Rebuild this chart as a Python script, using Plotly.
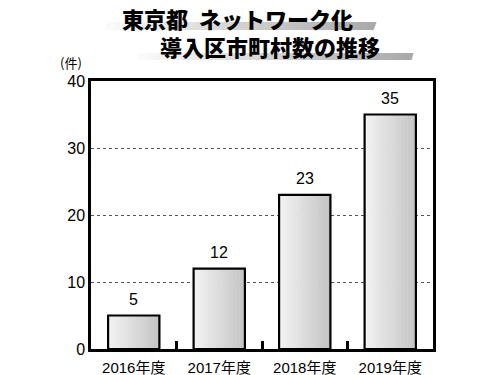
import plotly.graph_objects as go

categories = ["2016年度", "2017年度", "2018年度", "2019年度"]
values = [5, 12, 23, 35]
y_ticks = [0, 10, 20, 30, 40]
title_line1 = "東京都 ネットワーク化"
title_line2 = "導入区市町村数の推移"
unit_label = "(件)"

FONT = "Liberation Sans, Noto Sans CJK JP"
TFONT = "Noto Sans CJK JP"
W, H = 500, 375
OFF = 8  # page body margin in the browser
L, R, T, B = 91 - OFF, 67 + OFF, 81 - OFF, 26 + OFF
PW, PH = W - L - R, H - T - B

def px_to_paper(x, y):
    # x, y are screenshot pixel coordinates
    return (x - OFF - L) / PW, (H - B - (y - OFF)) / PH

def lerp_color(c0, c1, f):
    return "rgb(%d,%d,%d)" % tuple(round(a + (b - a) * f) for a, b in zip(c0, c1))

fig = go.Figure()

# gradient bars built from thin strips
N = 18
bar_w = 0.6
step = bar_w / N
c_left, c_right = (242, 242, 242), (196, 196, 196)
for k in range(N):
    fig.add_trace(go.Bar(
        x=categories, y=values,
        width=step * 1.15, offset=-bar_w / 2 + k * step,
        marker=dict(color=lerp_color(c_left, c_right, k / (N - 1)), line=dict(width=0)),
        hoverinfo="skip", showlegend=False,
    ))
# outline
fig.add_trace(go.Bar(
    x=categories, y=values, width=bar_w,
    marker=dict(color="rgba(0,0,0,0)", line=dict(color="black", width=2.2)),
    showlegend=False,
))

# value labels
for c, v in zip(categories, values):
    fig.add_annotation(x=c, y=v, text=str(v), showarrow=False, yanchor="bottom",
                       yshift=6, font=dict(family=FONT, size=16, color="black"))

# title decoration strips (gradient parallelograms)
shapes = []
def strip(x0, x1, yt, yb, slant, n=30):
    w = (x1 - x0) / n
    for k in range(n):
        a = x0 + k * w
        b = a + w + 0.6
        p1 = px_to_paper(a, yb); p2 = px_to_paper(b, yb)
        p3 = px_to_paper(b + slant, yt); p4 = px_to_paper(a + slant, yt)
        path = "M%.5f,%.5fL%.5f,%.5fL%.5f,%.5fL%.5f,%.5fZ" % (p1 + p2 + p3 + p4)
        shapes.append(dict(type="path", xref="paper", yref="paper", path=path,
                           fillcolor=lerp_color((250, 250, 250), (170, 170, 170), k / (n - 1)),
                           line=dict(width=0), layer="above"))
strip(104, 373, 22, 30, 3)
strip(137, 411, 53, 60, 2)

fig.add_annotation(xref="paper", yref="paper", x=px_to_paper(237, 0)[0], y=px_to_paper(0, 18)[1],
                   text=title_line1.replace(" ", "\u2002"), showarrow=False, xanchor="center", yanchor="middle",
                   font=dict(family=TFONT, size=22, color="black", weight=900))
fig.add_annotation(xref="paper", yref="paper", x=px_to_paper(270, 0)[0], y=px_to_paper(0, 46)[1],
                   text=title_line2, showarrow=False, xanchor="center", yanchor="middle",
                   font=dict(family=TFONT, size=22, color="black", weight=900))
fig.add_annotation(xref="paper", yref="paper", x=px_to_paper(71, 0)[0], y=px_to_paper(0, 62)[1],
                   text=unit_label, showarrow=False, xanchor="center", yanchor="middle",
                   font=dict(family=TFONT, size=13, color="black"))

fig.update_layout(
    width=W, height=H, margin=dict(l=L, r=R, t=T, b=B, autoexpand=False),
    paper_bgcolor="white", plot_bgcolor="white",
    barmode="overlay", bargap=0.4, shapes=shapes,
    font=dict(family=FONT, color="black"),
)
fig.update_xaxes(
    type="category", automargin=False, showline=True, linewidth=2.5, linecolor="black", mirror=True,
    ticks="inside", tickson="boundaries", ticklen=8, tickwidth=2.5, tickcolor="black",
    showgrid=False, ticklabelstandoff=3, tickfont=dict(family=FONT, size=15, color="black"),
)
fig.update_yaxes(
    range=[0, 40], tickvals=y_ticks, automargin=False, showline=True, linewidth=2.5, linecolor="black", mirror=True,
    showgrid=True, gridcolor="#555555", gridwidth=1, griddash="3px,3px", zeroline=False,
    ticks="", tickfont=dict(family=FONT, size=16, color="black"),
)

fig.write_html("out.html")
